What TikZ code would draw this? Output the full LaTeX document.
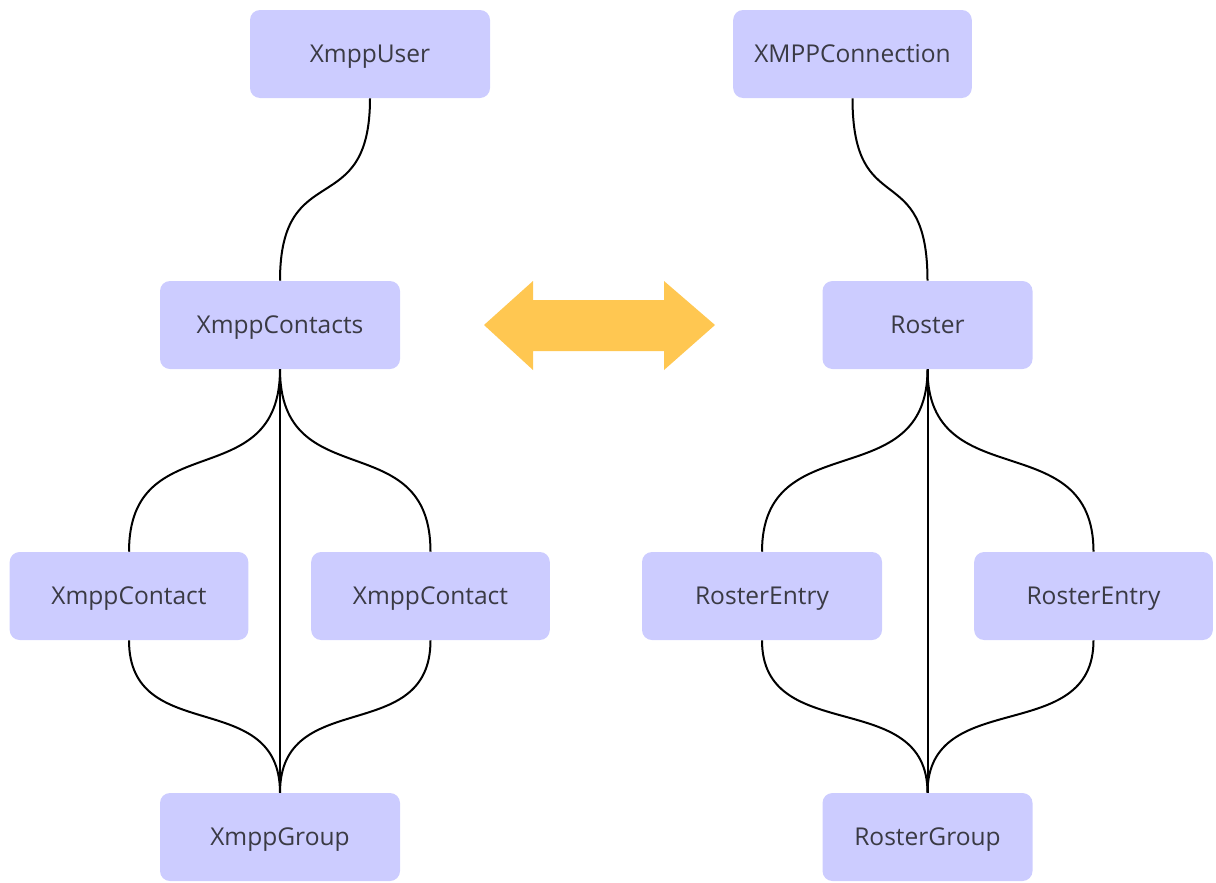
\documentclass[tikz,border=0pt]{standalone}
\usepackage{fontspec}
\setmainfont{Open Sans}
\usetikzlibrary{positioning}
\definecolor{boxfill}{HTML}{CCCCFF}
\definecolor{boxtext}{HTML}{3A3A44}
\definecolor{swapfill}{HTML}{FFC751}
\tikzset{
  clsbox/.style={rounded corners=7.5pt, fill=boxfill, text=boxtext, align=center,
    font=\fontsize{18.4}{20}\selectfont, text height=13.1pt, text depth=0pt,
    minimum width=180pt, minimum height=66pt, inner sep=0pt},
  rosterbox/.style={clsbox, minimum width=157.5pt},
  clslink/.style={line width=1.5pt, black},
  vcurve/.style={to path={.. controls +(0,-#1) and +(0,#1) .. (\tikztotarget)}},
  swaparrow/.style={fill=swapfill},
}

\begin{document}
\begin{tikzpicture}[x=0.75pt, y=0.75pt]
  \useasboundingbox (0,0) rectangle (1216,-882);
  % linke Seite
  \node[clsbox] (xuser) at (370,-54) {XmppUser};
  \node[clsbox] (xcontacts) at (280,-325) {XmppContacts};
  \node[clsbox, minimum width=179pt] (xcontactl) at (129,-596) {XmppContact};
  \node[clsbox, minimum width=179pt] (xcontactr) at (430.5,-596) {XmppContact};
  \node[clsbox] (xgroup) at (280,-837) {XmppGroup};
  % rechte Seite
  \node[clsbox, minimum width=179pt] (conn) at (852.5,-54) {XMPPConnection};
  \node[rosterbox] (roster) at (927.5,-325) {Roster};
  \node[clsbox] (entryl) at (762,-596) {RosterEntry};
  \node[clsbox, minimum width=179pt] (entryr) at (1093.5,-596) {RosterEntry};
  \node[rosterbox] (rgroup) at (927.5,-837) {RosterGroup};
  % Verbindungen links
  \draw[clslink] (xuser.south) to[vcurve=125] (xcontacts.north);
  \draw[clslink] (xcontacts.south) to[vcurve=128] (xcontactl.north);
  \draw[clslink] (xcontacts.south) to[vcurve=128] (xcontactr.north);
  \draw[clslink] (xcontacts.south) -- (xgroup.north);
  \draw[clslink] (xcontactl.south) to[vcurve=107] (xgroup.north);
  \draw[clslink] (xcontactr.south) to[vcurve=107] (xgroup.north);
  % Verbindungen rechts
  \draw[clslink] (conn.south) to[vcurve=125] (roster.north);
  \draw[clslink] (roster.south) to[vcurve=128] (entryl.north);
  \draw[clslink] (roster.south) to[vcurve=128] (entryr.north);
  \draw[clslink] (roster.south) -- (rgroup.north);
  \draw[clslink] (entryl.south) to[vcurve=107] (rgroup.north);
  \draw[clslink] (entryr.south) to[vcurve=107] (rgroup.north);
  % Doppelpfeil
  \fill[swaparrow] (484,-325) -- (533,-281) -- (533,-300) -- (664,-300) -- (664,-281)
    -- (715,-325) -- (664,-370) -- (664,-351) -- (533,-351) -- (533,-370) -- cycle;
\end{tikzpicture}
\end{document}
